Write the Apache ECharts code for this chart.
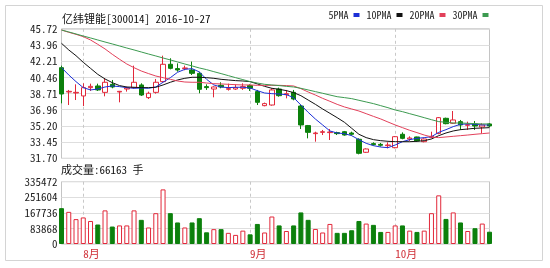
<!DOCTYPE html>
<html>
<head>
<meta charset="utf-8">
<script src="https://cdn.jsdelivr.net/npm/echarts@6/dist/echarts.min.js"></script>
<style>
  html, body { margin: 0; padding: 0; background: #ffffff; }
  #chart { width: 550px; height: 268px; }
</style>
</head>
<body>
<div id="chart"></div>
<script>
// Daily K-line with moving averages and volume, 亿纬锂能 (300014)
const stockName = '亿纬锂能';
const stockCode = '300014';
const quoteDate = '2016-10-27';

const tradeDates = [
  '2016-07-27','2016-07-28','2016-07-29',
  '2016-08-01','2016-08-02','2016-08-03','2016-08-04','2016-08-05',
  '2016-08-08','2016-08-09','2016-08-10','2016-08-11','2016-08-12',
  '2016-08-15','2016-08-16','2016-08-17','2016-08-18','2016-08-19',
  '2016-08-22','2016-08-23','2016-08-24','2016-08-25','2016-08-26',
  '2016-08-29','2016-08-30','2016-08-31',
  '2016-09-01','2016-09-02',
  '2016-09-05','2016-09-06','2016-09-07','2016-09-08','2016-09-09',
  '2016-09-12','2016-09-13','2016-09-14',
  '2016-09-19','2016-09-20','2016-09-21','2016-09-22','2016-09-23',
  '2016-09-26','2016-09-27','2016-09-28','2016-09-29','2016-09-30',
  '2016-10-10','2016-10-11','2016-10-12','2016-10-13','2016-10-14',
  '2016-10-17','2016-10-18','2016-10-19','2016-10-20','2016-10-21',
  '2016-10-24','2016-10-25','2016-10-26','2016-10-27'
];

const openPrices = [
  41.51, 38.88, 38.77, 38.45, 39.35, 39.53, 38.84, 39.71, 38.88, 39.20,
  39.35, 39.64, 38.27, 38.84, 40.00, 41.88, 41.41, 41.41, 41.26, 40.90,
  39.46, 39.20, 39.60, 39.17, 39.20, 39.28, 39.57, 38.92, 37.40, 37.47,
  39.20, 38.59, 38.84, 37.36, 35.24, 34.37, 34.51, 34.48, 34.48, 34.58,
  34.44, 33.76, 32.35, 33.29, 33.21, 33.07, 32.85, 34.30, 33.79, 34.01,
  33.50, 33.97, 34.40, 36.03, 35.49, 35.67, 35.27, 35.42, 35.09, 35.42
];
const closePrices = [
  38.66, 38.95, 38.84, 39.35, 39.49, 39.10, 39.93, 39.42, 38.95, 39.31,
  39.93, 38.55, 38.74, 39.93, 41.88, 41.44, 41.26, 41.48, 40.90, 39.17,
  39.35, 39.42, 39.42, 39.24, 39.35, 39.46, 39.28, 37.76, 37.62, 39.10,
  38.48, 38.70, 38.12, 35.31, 34.51, 34.44, 34.58, 34.55, 34.37, 34.22,
  34.30, 32.24, 32.71, 33.18, 33.11, 33.14, 34.04, 33.86, 33.90, 33.58,
  33.79, 34.08, 36.10, 35.45, 35.85, 35.31, 35.34, 35.20, 35.31, 35.20
];
const lowPrices = [
  37.65, 37.47, 38.01, 37.36, 38.99, 38.99, 38.41, 39.28, 37.76, 38.92,
  39.24, 38.45, 38.12, 38.70, 39.93, 41.33, 41.08, 41.23, 40.72, 38.74,
  39.10, 38.30, 39.28, 39.03, 39.10, 39.10, 38.99, 37.47, 37.33, 37.40,
  38.37, 38.19, 37.98, 34.87, 33.86, 33.50, 34.22, 33.68, 34.22, 34.15,
  34.15, 32.13, 32.28, 33.07, 32.96, 32.78, 32.78, 33.76, 33.58, 33.50,
  33.43, 33.86, 34.30, 35.38, 35.42, 34.77, 34.77, 34.77, 34.40, 35.09
];
const highPrices = [
  41.73, 39.10, 39.71, 39.82, 39.78, 39.78, 40.36, 40.18, 38.99, 39.46,
  41.73, 39.82, 38.92, 40.29, 42.81, 42.53, 41.98, 41.73, 42.17, 41.08,
  39.71, 39.49, 39.93, 39.78, 39.71, 39.82, 39.71, 39.10, 37.73, 39.28,
  39.35, 39.10, 39.10, 37.47, 35.31, 34.58, 34.77, 34.87, 34.58, 34.66,
  34.58, 33.86, 32.78, 33.43, 33.36, 33.43, 34.11, 34.51, 34.08, 34.04,
  33.86, 34.58, 36.17, 36.10, 36.82, 35.85, 35.67, 35.74, 35.49, 35.52
];

const volumes = [
  193000, 173000, 134000, 143000, 124000, 105000, 181000,  94000, 100000, 100000,
  181000, 130000,  89000, 166000, 294000, 166000, 116000,  89000, 116000, 139000,
   63000,  80000,  80000,  60000,  49000,  72000,  52000, 108000,  62000, 148000,
  100000,  70000, 100000, 170000, 130000,  81000,  62000, 108000,  60000,  60000,
   74000, 124000, 110000, 103000,  65000,  65000, 100000, 100000,  72000,  65000,
   72000, 166000, 262000, 135000, 170000, 116000,  70000,  85000, 110000,  66163
];

const ma5 = [
  41.52, 40.72, 40.00, 39.35, 39.10, 39.20, 39.42, 39.53, 39.46, 39.35,
  39.28, 39.31, 39.28, 39.42, 39.93, 40.43, 41.01, 41.33, 41.41, 41.05,
  40.25, 39.64, 39.42, 39.35, 39.39, 39.39, 39.31, 39.02, 38.77, 38.70,
  38.66, 38.59, 38.27, 37.47, 36.68, 35.95, 35.31, 34.66, 34.44, 34.37,
  34.15, 33.72, 33.32, 33.07, 32.92, 32.85, 33.14, 33.50, 33.72, 33.86,
  33.94, 34.04, 34.51, 34.80, 35.13, 35.38, 35.42, 35.38, 35.31, 35.31
];
const ma10 = [
  44.15, 43.43, 42.81, 42.09, 41.44, 40.79, 40.29, 39.89, 39.57, 39.42,
  39.39, 39.35, 39.35, 39.39, 39.64, 39.93, 40.18, 40.36, 40.47, 40.47,
  40.43, 40.36, 40.25, 40.18, 40.11, 40.07, 40.00, 39.75, 39.49, 39.28,
  39.17, 39.03, 38.81, 38.48, 38.01, 37.54, 37.04, 36.57, 36.10, 35.60,
  34.95, 34.30, 33.94, 33.72, 33.61, 33.54, 33.50, 33.50, 33.50, 33.54,
  33.61, 33.79, 34.15, 34.44, 34.66, 34.80, 34.87, 34.95, 34.98, 35.02
];
const ma20 = [
  45.59, 45.34, 45.12, 44.87, 44.51, 44.04, 43.54, 42.96, 42.42, 41.91,
  41.51, 41.15, 40.87, 40.61, 40.43, 40.25, 40.07, 39.96, 39.93, 39.93,
  39.85, 39.78, 39.75, 39.71, 39.67, 39.64, 39.64, 39.60, 39.60, 39.60,
  39.60, 39.57, 39.53, 39.24, 38.88, 38.55, 38.19, 37.87, 37.54, 37.26,
  37.04, 36.82, 36.53, 36.24, 35.96, 35.63, 35.31, 35.02, 34.73, 34.48,
  34.22, 34.01, 33.94, 34.01, 34.08, 34.15, 34.22, 34.30, 34.37, 34.44
];
const ma30 = [
  45.59, 45.38, 45.16, 44.94, 44.73, 44.51, 44.29, 44.08, 43.86, 43.64,
  43.43, 43.21, 42.99, 42.78, 42.56, 42.35, 42.13, 41.91, 41.70, 41.48,
  41.30, 41.08, 40.87, 40.65, 40.43, 40.22, 40.00, 39.85, 39.71, 39.64,
  39.57, 39.49, 39.42, 39.28, 39.10, 38.92, 38.74, 38.55, 38.37, 38.27,
  38.16, 37.98, 37.80, 37.62, 37.40, 37.18, 36.93, 36.75, 36.53, 36.32,
  36.10, 35.88, 35.67, 35.60, 35.52, 35.52, 35.49, 35.45, 35.42, 35.42
];

const priceTickLabels = ['31.70', '33.45', '35.20', '36.96', '38.71', '40.46', '42.21', '43.96', '45.72'];
const volumeTickLabels = ['0', '83868', '167736', '251604', '335472'];
const maNames = ['5PMA', '10PMA', '20PMA', '30PMA'];

const MONO = '"Noto Sans Mono CJK SC", "DejaVu Sans Mono", "Noto Sans CJK SC", monospace';
const UP = '#e2283a';
const DOWN = '#0c800c';
const MA_COLORS = ['#1c2fd6', '#111111', '#e2405a', '#3c9a50'];
const GRID_LINE = '#dedede';
const FRAME = '#c4c4c4';

const priceTicks = priceTickLabels.map(Number);
const volumeTicks = volumeTickLabels.map(Number);
const lastIndex = tradeDates.length - 1;

const candles = openPrices.map((o, i) => [o, closePrices[i], lowPrices[i], highPrices[i]]);
const volumeBars = volumes.map((v, i) => ({
  value: v,
  itemStyle: closePrices[i] >= openPrices[i]
    ? { color: '#ffffff', borderColor: UP, borderWidth: 1 }
    : { color: DOWN, borderColor: DOWN, borderWidth: 1 }
}));

const isMonthStart = (i) => i > 0 && tradeDates[i].slice(5, 7) !== tradeDates[i - 1].slice(5, 7);
const monthLabel = (d) => parseInt(d.slice(5, 7), 10) + '月';

const gridLeft = 61.5, gridWidth = 428;

const chart = echarts.init(document.getElementById('chart'), null, { renderer: 'canvas' });

chart.setOption({
  animation: false,
  backgroundColor: '#ffffff',
  title: [
    {
      text: stockName + '[' + stockCode + '] ' + quoteDate,
      left: 62, top: 13, padding: 0,
      textStyle: { fontSize: 11, fontWeight: 'normal', color: '#111', fontFamily: MONO }
    },
    {
      text: '成交量:' + volumes[lastIndex] + ' 手',
      left: 61, top: 164, padding: 0,
      textStyle: { fontSize: 11, fontWeight: 'normal', color: '#111', fontFamily: MONO }
    }
  ],
  legend: {
    data: maNames.map((n) => ({ name: n, icon: 'rect' })),
    right: 61.5, top: 10, padding: 0,
    align: 'right',
    itemWidth: 6, itemHeight: 4, itemGap: 7,
    textStyle: { fontSize: 10, color: '#222', fontFamily: MONO }
  },
  graphic: [{
    type: 'rect', silent: true, z: -10,
    shape: { x: 5.5, y: 5.5, width: 537, height: 255 },
    style: { fill: 'none', stroke: '#d4d4d4', lineWidth: 1 }
  }],
  grid: [
    { left: gridLeft, width: gridWidth, top: 28.8, height: 129.5, show: true, borderColor: FRAME, borderWidth: 1, backgroundColor: 'transparent' },
    { left: gridLeft, width: gridWidth, top: 181.7, height: 62.3, show: true, borderColor: FRAME, borderWidth: 1, backgroundColor: 'transparent' }
  ],
  xAxis: [
    {
      type: 'category', gridIndex: 0, data: tradeDates, boundaryGap: false,
      axisLine: { show: false }, axisTick: { show: false }, axisLabel: { show: false },
      splitLine: { show: true, interval: (i) => isMonthStart(i), lineStyle: { color: '#c8c8c8', type: [3, 3], width: 1 } }
    },
    {
      type: 'category', gridIndex: 1, data: tradeDates, boundaryGap: false,
      axisLine: { show: false }, axisTick: { show: false },
      axisLabel: {
        interval: (i) => isMonthStart(i),
        formatter: (d) => monthLabel(d),
        align: 'left', margin: 4,
        color: '#d03038', fontSize: 11, fontFamily: MONO
      },
      splitLine: { show: true, interval: (i) => isMonthStart(i), lineStyle: { color: '#c8c8c8', type: [3, 3], width: 1 } }
    }
  ],
  yAxis: [
    {
      type: 'value', gridIndex: 0, scale: true,
      min: priceTicks[0], max: priceTicks[priceTicks.length - 1],
      axisLine: { show: false },
      axisTick: { show: false, customValues: priceTicks },
      axisLabel: {
        customValues: priceTicks,
        formatter: (v) => priceTickLabels[priceTicks.indexOf(v)] || v.toFixed(2),
        margin: 4, color: '#222', fontSize: 11, fontFamily: MONO
      },
      splitLine: { show: true, lineStyle: { color: GRID_LINE, width: 1 } }
    },
    {
      type: 'value', gridIndex: 1,
      min: volumeTicks[0], max: volumeTicks[volumeTicks.length - 1],
      interval: volumeTicks[1] - volumeTicks[0],
      axisLine: { show: false }, axisTick: { show: false },
      axisLabel: { formatter: (v) => String(v), margin: 4, color: '#222', fontSize: 11, fontFamily: MONO },
      splitLine: { show: true, lineStyle: { color: GRID_LINE, width: 1 } }
    }
  ],
  series: [
    {
      name: 'K', type: 'candlestick', xAxisIndex: 0, yAxisIndex: 0,
      data: candles, barWidth: 5, clip: false, z: 2,
      itemStyle: { color: '#ffffff', color0: DOWN, borderColor: UP, borderColor0: DOWN, borderWidth: 1 }
    },
    ...[ma5, ma10, ma20, ma30].map((d, k) => ({
      name: maNames[k], type: 'line', xAxisIndex: 0, yAxisIndex: 0,
      data: d, showSymbol: false, symbol: 'none', z: 3,
      color: MA_COLORS[k],
      lineStyle: { width: 1, color: MA_COLORS[k] }
    })),
    {
      name: 'VOL', type: 'bar', xAxisIndex: 1, yAxisIndex: 1,
      data: volumeBars, barWidth: 5, clip: false
    }
  ]
});
</script>
</body>
</html>
